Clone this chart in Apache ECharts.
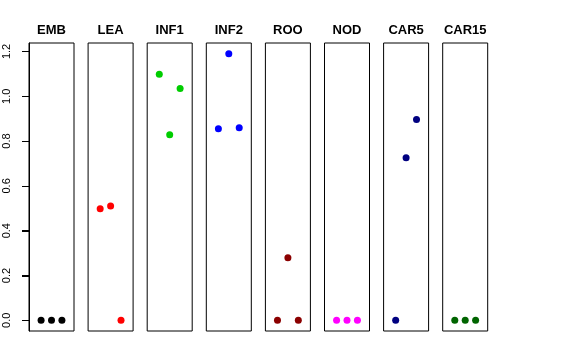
<!DOCTYPE html>
<html>
<head>
<meta charset="utf-8">
<script src="https://cdn.jsdelivr.net/npm/echarts@6/dist/echarts.min.js"></script>
<style>
html,body{margin:0;padding:0;background:#fff;}
#chart{width:576px;height:360px;}
</style>
</head>
<body>
<div id="chart"></div>
<script>
// ---- data ----
const categories = ['EMB', 'LEA', 'INF1', 'INF2', 'ROO', 'NOD', 'CAR5', 'CAR15'];
const xPositions = [1, 2, 3];
const EMB   = [0, 0, 0];
const LEA   = [0.498, 0.510, 0];
const INF1  = [1.098, 0.828, 1.034];
const INF2  = [0.855, 1.190, 0.859];
const ROO   = [0, 0.279, 0];
const NOD   = [0, 0, 0];
const CAR5  = [0, 0.726, 0.896];
const CAR15 = [0, 0, 0];
const seriesValues = [EMB, LEA, INF1, INF2, ROO, NOD, CAR5, CAR15];
const colors = ['#000000', '#FF0000', '#00CD00', '#0000FF', '#8B0000', '#FF00FF', '#000080', '#006400'];
const yTickValues = [0, 0.2, 0.4, 0.6, 0.8, 1.0, 1.2];
const yTickLabels = ['0.0', '0.2', '0.4', '0.6', '0.8', '1.0', '1.2'];

// ---- layout ----
const FONT = 'Liberation Sans, Arial, Helvetica, sans-serif';
const panelLeft0 = 29, panelStep = 59.1, panelW = 45;
const panelTop = 43, panelH = 288;
const yMin = -0.0476, yMax = 1.2376;
const tickLen = 7;

const grids = [], xAxes = [], yAxes = [], series = [], graphics = [];
categories.forEach((cat, i) => {
  const left = panelLeft0 + i * panelStep;
  grids.push({left: left, top: panelTop, width: panelW, height: panelH,
    show: true, borderColor: '#000', borderWidth: 1});
  xAxes.push({type: 'value', gridIndex: i, min: -0.16, max: 4.16, show: false});
  if (i === 0) {
    yAxes.push({
      type: 'value', gridIndex: i, min: yMin, max: yMax, position: 'left',
      axisLine: {show: true, onZero: false, lineStyle: {color: '#000', width: 1}},
      axisTick: {show: true, length: tickLen, customValues: yTickValues,
        lineStyle: {color: '#000', width: 1}},
      splitLine: {show: false},
      axisLabel: {show: true, rotate: 90, margin: 17, fontSize: 11, fontFamily: FONT, color: '#000',
        customValues: yTickValues,
        formatter: (v) => yTickLabels[Math.round(v / 0.2)]}
    });
  } else {
    yAxes.push({type: 'value', gridIndex: i, min: yMin, max: yMax, show: false});
  }
  series.push({
    type: 'scatter', xAxisIndex: i, yAxisIndex: i,
    symbol: 'circle', symbolSize: 7,
    itemStyle: {color: colors[i], opacity: 1},
    data: seriesValues[i].map((v, k) => [xPositions[k], v])
  });
  graphics.push({type: 'text', x: left + panelW / 2, y: 30.5,
    style: {text: cat, align: 'center', verticalAlign: 'middle',
      font: 'bold 13px ' + FONT, fill: '#000'}});
});

const chart = echarts.init(document.getElementById('chart'), null, {renderer: 'canvas'});
chart.setOption({
  animation: false,
  grid: grids, xAxis: xAxes, yAxis: yAxes, series: series,
  graphic: graphics
});

// tick marks positioned through the first panel's y scale
const tickGraphics = yTickValues.map((v) => {
  const py = Math.round(chart.convertToPixel({yAxisIndex: 0}, v)) + 0.5;
  return {type: 'line', z: 100, silent: true,
    shape: {x1: panelLeft0 - tickLen, y1: py, x2: panelLeft0, y2: py},
    style: {stroke: '#000', lineWidth: 1}};
});
chart.setOption({graphic: graphics.concat(tickGraphics)});
</script>
</body>
</html>
